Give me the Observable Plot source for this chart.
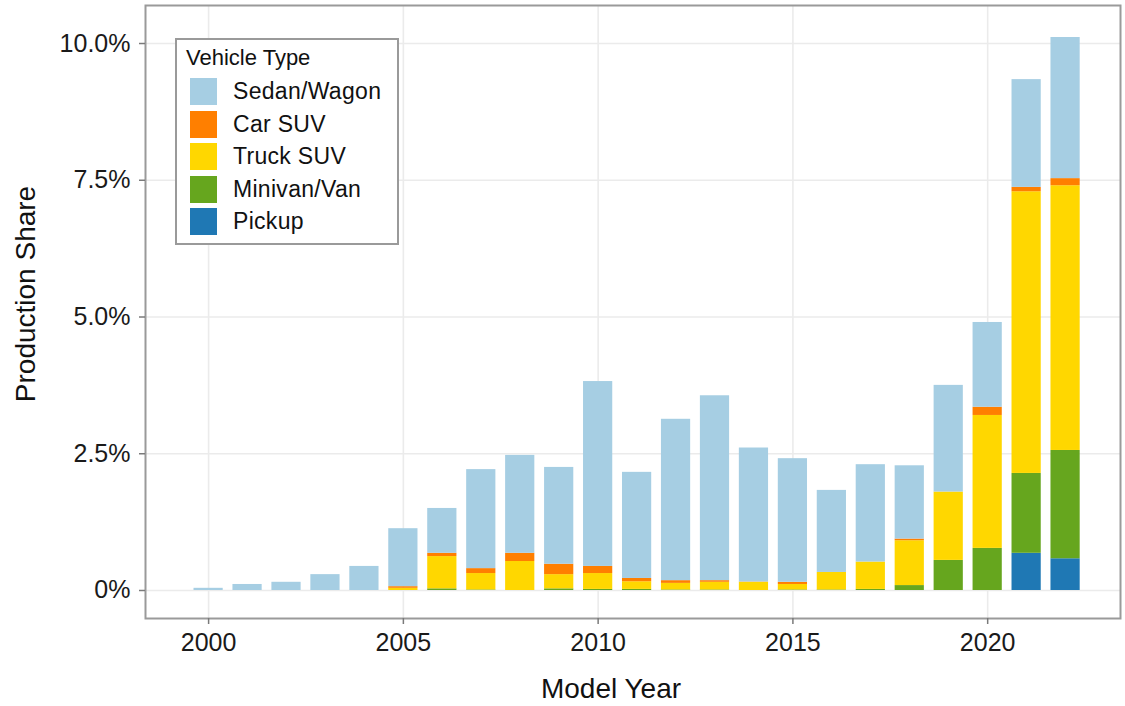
<!DOCTYPE html>
<html>
<head>
<meta charset="utf-8">
<script src="https://cdn.jsdelivr.net/npm/d3@7"></script>
<script src="https://cdn.jsdelivr.net/npm/@observablehq/plot@0.6"></script>
<style>
  html, body { margin: 0; padding: 0; background: #fff; }
  #wrap { position: relative; width: 1125px; height: 706px; font-family: "Liberation Sans", Arial, sans-serif; }
  #legend { position: absolute; left: 175px; top: 38px; width: 220px; height: 203px; border: 2px solid #9a9a9a; background: #fff; box-sizing: content-box; }
  #legend .title { position: absolute; left: 9px; top: 5px; font-size: 22px; color: #111; }
  #legend .item { position: absolute; left: 13px; height: 27px; display: flex; align-items: center; }
  #legend .sw { width: 27px; height: 27px; margin-right: 16px; }
  #legend .lab { font-size: 23px; color: #111; letter-spacing: 0.3px; }
  svg g[aria-label="y-axis tick"] path, svg g[aria-label="x-axis tick"] path { stroke: #7a7a7a; stroke-width: 1.5; stroke-opacity: 1; }
</style>
</head>
<body>
<div id="wrap"></div>
<script>
const years    = [2000,2001,2002,2003,2004,2005,2006,2007,2008,2009,2010,2011,2012,2013,2014,2015,2016,2017,2018,2019,2020,2021,2022];
const pickup   = [0,0,0,0,0,0,0,0,0,0,0,0,0,0,0,0,0,0,0,0,0,0.68,0.58];
const minivan  = [0,0,0,0,0,0,0.03,0.01,0,0.03,0.02,0.02,0.01,0.01,0,0.01,0.01,0.02,0.09,0.55,0.77,1.46,1.98];
const truckSUV = [0,0,0,0,0,0.04,0.59,0.30,0.53,0.26,0.29,0.14,0.12,0.14,0.15,0.10,0.32,0.50,0.82,1.25,2.43,5.15,4.84];
const carSUV   = [0,0,0,0,0,0.03,0.06,0.09,0.15,0.19,0.13,0.06,0.05,0.03,0.005,0.04,0,0,0.03,0,0.15,0.08,0.13];
const sedan    = [0.04,0.11,0.15,0.29,0.44,1.06,0.82,1.81,1.79,1.77,3.38,1.94,2.95,3.38,2.45,2.26,1.50,1.78,1.34,1.95,1.55,1.97,2.58];

const types  = ["Sedan/Wagon","Car SUV","Truck SUV","Minivan/Van","Pickup"];
const colors = ["#a6cee3","#ff7f00","#ffd700","#66a61e","#1f78b4"];
const yTicks = [0,2.5,5,7.5,10];
const yTickLabels = ["0%","2.5%","5.0%","7.5%","10.0%"];
const xTicks = [2000,2005,2010,2015,2020];

// stack bottom to top: Pickup, Minivan/Van, Truck SUV, Car SUV, Sedan/Wagon
const stackOrder = [["Pickup", pickup],["Minivan/Van", minivan],["Truck SUV", truckSUV],["Car SUV", carSUV],["Sedan/Wagon", sedan]];
const rows = [];
years.forEach((yr, i) => {
  let cum = 0;
  for (const [type, arr] of stackOrder) {
    const v = arr[i];
    if (v > 0) rows.push({year: yr, type, y1: cum, y2: cum + v});
    cum += v;
  }
});

const chart = Plot.plot({
  width: 1125,
  height: 706,
  marginLeft: 145,
  marginRight: 5,
  marginTop: 5,
  marginBottom: 88,
  style: {fontFamily: "'Liberation Sans', Arial, sans-serif", fontSize: "25px", color: "#1a1a1a", background: "#fff"},
  x: {type: "linear", domain: [1998.38, 2023.41]},
  y: {domain: [-0.512, 10.695]},
  color: {domain: types, range: colors},
  marks: [
    Plot.gridX(xTicks, {stroke: "#ebebeb", strokeOpacity: 1, strokeWidth: 1.6}),
    Plot.gridY(yTicks, {stroke: "#ebebeb", strokeOpacity: 1, strokeWidth: 1.6}),
    Plot.rect(rows, {x1: d => d.year - 0.375, x2: d => d.year + 0.375, y1: "y1", y2: "y2", fill: "type"}),
    Plot.frame({stroke: "#9a9a9a", strokeWidth: 2}),
    Plot.axisY(yTicks, {tickFormat: d => yTickLabels[yTicks.indexOf(d)], tickSize: 6, tickPadding: 9, label: null, fontSize: 25}),
    Plot.axisX(xTicks, {tickFormat: d => String(d), tickSize: 6, tickPadding: 9, label: null, fontSize: 25}),
    Plot.text(["Production Share"], {frameAnchor: "left", textAnchor: "middle", lineAnchor: "middle", dx: -119, dy: -18, rotate: -90, fontSize: 28, fill: "#111"}),
    Plot.text(["Model Year"], {frameAnchor: "bottom", textAnchor: "middle", lineAnchor: "middle", dx: -22, dy: 71, fontSize: 28, fill: "#111"})
  ]
});
const wrap = document.getElementById("wrap");
wrap.appendChild(chart);

const legend = document.createElement("div");
legend.id = "legend";
let html = '<div class="title">Vehicle Type</div>';
types.forEach((t, i) => {
  html += `<div class="item" style="top:${38 + i * 32.5}px"><div class="sw" style="background:${colors[i]}"></div><div class="lab">${t}</div></div>`;
});
legend.innerHTML = html;
wrap.appendChild(legend);
</script>
</body>
</html>
